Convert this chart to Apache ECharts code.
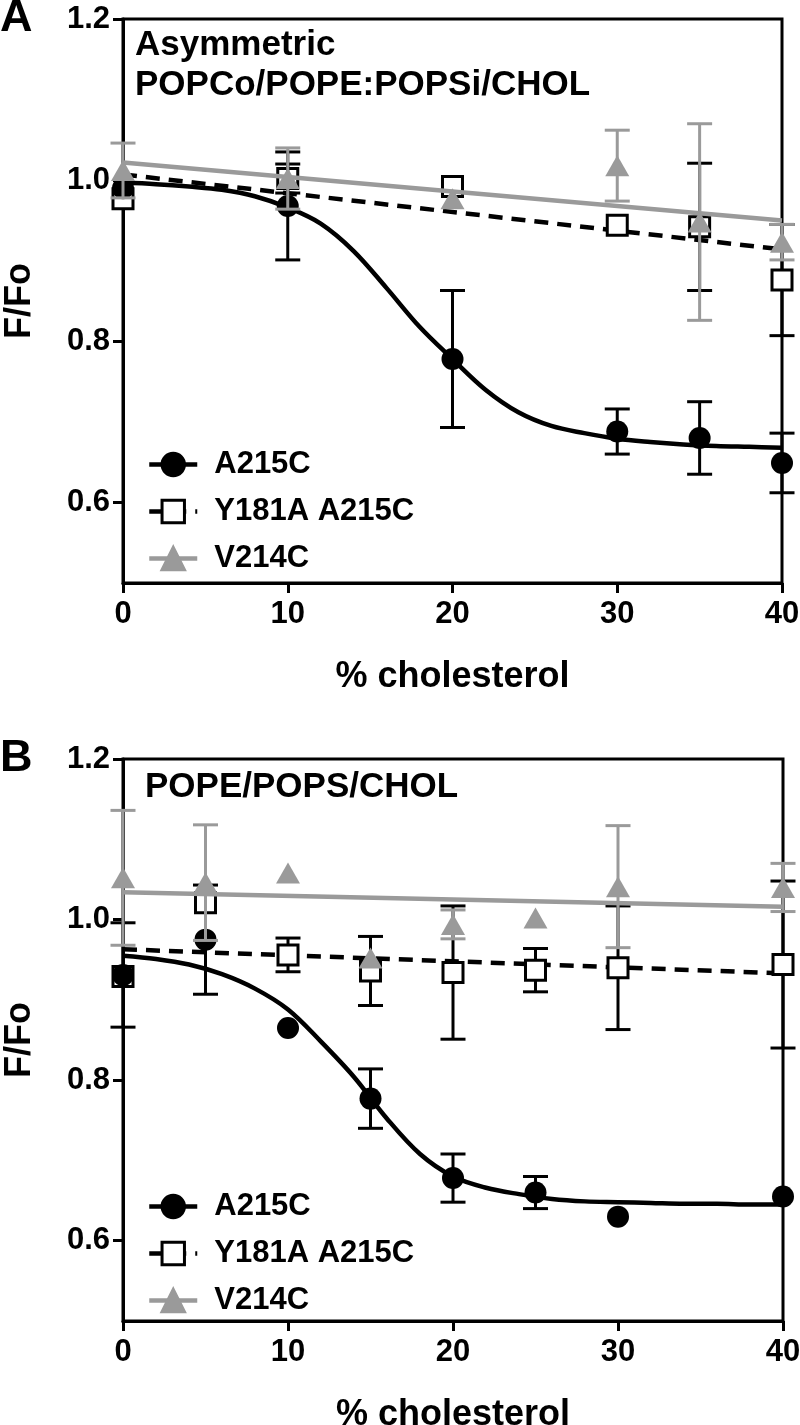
<!DOCTYPE html>
<html>
<head>
<meta charset="utf-8">
<script src="https://cdn.jsdelivr.net/npm/echarts@6/dist/echarts.min.js"></script>
<style>
html,body{margin:0;padding:0;background:#fff;}
#chart{width:800px;height:1425px;}
</style>
</head>
<body>
<div id="chart"></div>
<script>
// ---------- DATA ----------
const seriesNames = ['A215C', 'Y181A A215C', 'V214C'];
const yTickValues = [0.6, 0.8, 1.0, 1.2];

// Panel A
const xA = [0, 10, 20, 30, 35, 40];
const a215cA = [0.990, 0.968, 0.778, 0.688, 0.680, 0.649];
const a215cAErr = [0, 0.067, 0.085, 0.028, 0.045, 0.037];
const y181aA = [0.977, 1.002, 0.992, 0.944, 0.942, 0.876];
const y181aAErr = [0, 0.018, 0, 0, 0.079, 0.069];
const v214cA = [1.012, 1.002, 0.977, 1.018, 0.948, 0.923];
const v214cAErr = [0.034, 0.038, 0, 0.044, 0.122, 0.022];
const a215cAFit = [[0,0.997],[2,0.995],[4,0.992],[6,0.988],[8,0.980],[10,0.966],[12,0.946],[14,0.912],[16,0.866],[18,0.818],[20,0.778],[22,0.740],[24,0.712],[26,0.695],[28,0.686],[30,0.679],[32,0.675],[34,0.672],[36,0.670],[38,0.669],[40,0.668]];
const y181aAFit = [[0,1.007],[40,0.914]];
const v214cAFit = [[0,1.022],[40,0.950]];

// Panel B
const xB = [0, 5, 10, 15, 20, 25, 30, 40];
const a215cB = [0.931, 0.975, 0.865, 0.777, 0.678, 0.660, 0.630, 0.655];
const a215cBErr = [0.065, 0.068, 0, 0.037, 0.030, 0.020, 0, 0];
const y181aB = [0.929, 1.021, 0.956, 0.936, 0.934, 0.937, 0.940, 0.944];
const y181aBErr = [0, 0, 0.021, 0.043, 0.083, 0.027, 0.077, 0.104];
const v214cB = [1.052, 1.046, 1.058, 0.952, 0.994, 1.002, 1.041, 1.040];
const v214cBErr = [0.084, 0.072, 0, 0, 0.018, 0, 0.076, 0.030];
const a215cBFit = [[0,0.955],[2,0.951],[4,0.944],[6,0.932],[8,0.914],[10,0.888],[12,0.848],[14,0.804],[16,0.752],[18,0.708],[20,0.680],[22,0.666],[24,0.658],[26,0.652],[28,0.649],[30,0.648],[32,0.647],[34,0.646],[36,0.646],[38,0.645],[40,0.645]];
const y181aBFit = [[0,0.963],[40,0.933]];
const v214cBFit = [[0,1.034],[40,1.016]];

const panelTitles = ['Asymmetric\nPOPCo/POPE:POPSi/CHOL', 'POPE/POPS/CHOL'];
const panelLetters = ['A', 'B'];
const xTitle = '% cholesterol';
const yTitle = 'F/Fo';

// ---------- STYLE ----------
const FONT = '"Liberation Sans", Arial, Helvetica, sans-serif';
const BLACK = '#000000';
const GRAY = '#9a9a9a';

function pts(xs, ys) { return xs.map((x, i) => [x, ys[i]]); }
function errs(xs, ys, es) { return xs.map((x, i) => [x, ys[i], es[i]]).filter(d => d[2] > 0); }

function errRenderer(color) {
  return function (params, api) {
    const x = api.value(0), y = api.value(1), e = api.value(2);
    const t = api.coord([x, y + e]);
    const b = api.coord([x, y - e]);
    const hw = 12.5;
    const st = { stroke: color, lineWidth: 3, fill: null };
    return {
      type: 'group',
      children: [
        { type: 'line', shape: { x1: t[0], y1: t[1], x2: b[0], y2: b[1] }, style: st },
        { type: 'line', shape: { x1: t[0] - hw, y1: t[1], x2: t[0] + hw, y2: t[1] }, style: st },
        { type: 'line', shape: { x1: b[0] - hw, y1: b[1], x2: b[0] + hw, y2: b[1] }, style: st }
      ]
    };
  };
}

const panels = [
  { a: a215cA, ae: a215cAErr, af: a215cAFit, y: y181aA, ye: y181aAErr, yf: y181aAFit, v: v214cA, ve: v214cAErr, vf: v214cAFit, xs: xA },
  { a: a215cB, ae: a215cBErr, af: a215cBFit, y: y181aB, ye: y181aBErr, yf: y181aBFit, v: v214cB, ve: v214cBErr, vf: v214cBFit, xs: xB }
];

const grids = [
  { left: 123, top: 19, width: 659, height: 564 },
  { left: 123, top: 759, width: 660, height: 562 }
];

const xAxes = [], yAxes = [], series = [], legends = [], titles = [];
const legendTops = [449, 1191];
const titleTops = [25, 767];
const titleLefts = [135, 145];
const letterTops = [-4, 736];

grids.forEach((g, p) => {
  g.show = true; g.borderColor = BLACK; g.borderWidth = 3; g.backgroundColor = 'transparent';
  g.containLabel = false; g.outerBoundsMode = 'none';
  xAxes.push({
    type: 'value', gridIndex: p, min: 0, max: 40, interval: 10,
    name: xTitle, nameLocation: 'middle', nameGap: 76,
    nameTextStyle: { fontFamily: FONT, fontWeight: 'bold', fontSize: 36, color: BLACK },
    axisLine: { show: true, onZero: false, lineStyle: { color: BLACK, width: 3 } },
    axisTick: { show: true, inside: false, length: 10, lineStyle: { color: BLACK, width: 3 } },
    axisLabel: { margin: 16, fontFamily: FONT, fontWeight: 'bold', fontSize: 31, color: BLACK },
    splitLine: { show: false }
  });
  yAxes.push({
    type: 'value', gridIndex: p, min: 0.5, max: 1.2, interval: 0.1,
    name: yTitle, nameLocation: 'middle', nameGap: 85,
    nameTextStyle: { fontFamily: FONT, fontWeight: 'bold', fontSize: 36, color: BLACK },
    axisLine: { show: true, onZero: false, lineStyle: { color: BLACK, width: 3 } },
    axisTick: { show: true, inside: false, length: 10, customValues: yTickValues, lineStyle: { color: BLACK, width: 3 } },
    axisLabel: { margin: 13, customValues: yTickValues, formatter: v => v.toFixed(1), fontFamily: FONT, fontWeight: 'bold', fontSize: 31, color: BLACK },
    splitLine: { show: false }
  });
  const d = panels[p];
  // Y181A A215C
  series.push({
    name: 'Y181A A215C', type: 'line', xAxisIndex: p, yAxisIndex: p, data: d.yf,
    symbol: 'rect', showSymbol: false, z: 2,
    lineStyle: { color: BLACK, width: 4.5, type: [14, 9] },
    itemStyle: { color: '#ffffff', borderColor: BLACK, borderWidth: 3 }
  });
  series.push({
    name: 'Y181A err', type: 'custom', xAxisIndex: p, yAxisIndex: p, z: 3, clip: false,
    renderItem: errRenderer(BLACK), data: errs(d.xs, d.y, d.ye)
  });
  series.push({
    name: 'Y181A pts', type: 'scatter', xAxisIndex: p, yAxisIndex: p, z: 4, clip: false,
    symbol: 'rect', symbolSize: 20, data: pts(d.xs, d.y),
    itemStyle: { color: '#ffffff', borderColor: BLACK, borderWidth: 3, opacity: 1 }
  });
  // A215C
  series.push({
    name: 'A215C', type: 'line', xAxisIndex: p, yAxisIndex: p, data: d.af,
    smooth: 0.35, symbol: 'circle', showSymbol: false, z: 5,
    lineStyle: { color: BLACK, width: 4.5 },
    itemStyle: { color: BLACK, borderColor: BLACK, borderWidth: 1 }
  });
  series.push({
    name: 'A215C err', type: 'custom', xAxisIndex: p, yAxisIndex: p, z: 6, clip: false,
    renderItem: errRenderer(BLACK), data: errs(d.xs, d.a, d.ae)
  });
  series.push({
    name: 'A215C pts', type: 'scatter', xAxisIndex: p, yAxisIndex: p, z: 7, clip: false,
    symbol: 'circle', symbolSize: 22, data: pts(d.xs, d.a),
    itemStyle: { color: BLACK, opacity: 1 }
  });
  // V214C
  series.push({
    name: 'V214C', type: 'line', xAxisIndex: p, yAxisIndex: p, data: d.vf,
    symbol: 'triangle', showSymbol: false, z: 8,
    lineStyle: { color: GRAY, width: 4.5 },
    itemStyle: { color: GRAY, borderColor: GRAY, borderWidth: 1 }
  });
  series.push({
    name: 'V214C err', type: 'custom', xAxisIndex: p, yAxisIndex: p, z: 9, clip: false,
    renderItem: errRenderer(GRAY), data: errs(d.xs, d.v, d.ve)
  });
  series.push({
    name: 'V214C pts', type: 'scatter', xAxisIndex: p, yAxisIndex: p, z: 10, clip: false,
    symbol: 'triangle', symbolSize: [24, 21], data: pts(d.xs, d.v),
    itemStyle: { color: GRAY, opacity: 1 }
  });

  legends.push({
    data: seriesNames, orient: 'vertical', left: 147, top: legendTops[p], padding: 0,
    itemWidth: 48, itemHeight: 28, itemGap: 16, selectedMode: false,
    itemStyle: { borderWidth: 3 },
    lineStyle: { width: 4.5 },
    textStyle: { fontFamily: FONT, fontWeight: 'bold', fontSize: 31, color: BLACK, padding: [0, 0, 0, 12] }
  });
  titles.push({
    text: panelTitles[p], left: titleLefts[p], top: titleTops[p], padding: 0,
    textStyle: { fontFamily: FONT, fontWeight: 'bold', fontSize: 35, lineHeight: 40, color: BLACK }
  });
  titles.push({
    text: panelLetters[p], left: 0, top: letterTops[p], padding: 0,
    textStyle: { fontFamily: FONT, fontWeight: 'bold', fontSize: 45, color: BLACK }
  });
});

const chart = echarts.init(document.getElementById('chart'), null, { renderer: 'canvas', width: 800, height: 1425 });
chart.setOption({
  animation: false,
  backgroundColor: '#ffffff',
  title: titles,
  legend: legends,
  grid: grids,
  xAxis: xAxes,
  yAxis: yAxes,
  series: series
});
</script>
</body>
</html>
